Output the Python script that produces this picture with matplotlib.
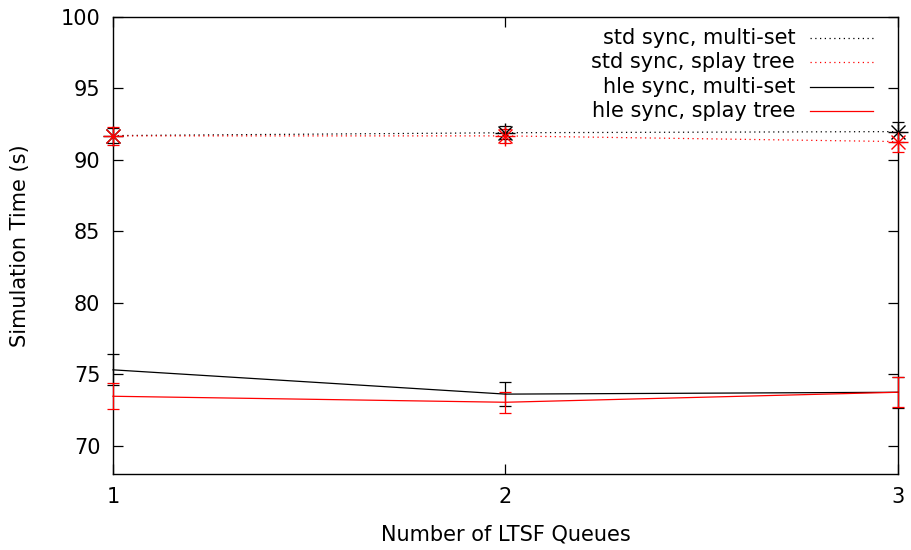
import matplotlib

matplotlib.use("Agg")
import matplotlib.pyplot as plt
from matplotlib.lines import Line2D

# Number of LTSF queues
queues = [1, 2, 3]

std_multiset = [91.70, 91.90, 91.98]
std_multiset_err = [0.55, 0.45, 0.70]
std_splay = [91.68, 91.68, 91.28]
std_splay_err = [0.65, 0.50, 0.70]

hle_multiset = [75.30, 73.60, 73.73]
hle_multiset_err = [1.08, 0.85, 1.10]
hle_splay = [73.45, 73.03, 73.73]
hle_splay_err = [0.90, 0.73, 1.05]

labels = ["std sync, multi-set", "std sync, splay tree",
          "hle sync, multi-set", "hle sync, splay tree"]

DOTTED = (0, (1, 2.8))
FS = 15

fig = plt.figure(figsize=(9.11, 5.5), dpi=100)
ax = fig.add_axes([0.124, 0.138, 0.8617, 0.831])


def draw(y, err, color, dotted, star):
    ls = DOTTED if dotted else "-"
    eb = ax.errorbar(queues, y, yerr=err, color=color, linewidth=0.9,
                     elinewidth=0.9, capsize=4.5, capthick=0.9, zorder=3)
    eb[0].set_linestyle(ls)
    for art in list(eb[1]) + list(eb[2]) + [eb[0]]:
        art.set_clip_on(False)
    if dotted:
        for c in eb[2]:
            c.set_linestyle(":")
    if star:
        ax.plot(queues, y, linestyle="none", marker="+", markersize=14,
                markeredgewidth=1.0, color=color, zorder=4, clip_on=False)
        ax.plot(queues, y, linestyle="none", marker="x", markersize=10,
                markeredgewidth=1.0, color=color, zorder=4, clip_on=False)


draw(std_multiset, std_multiset_err, "black", True, True)
draw(std_splay, std_splay_err, "red", True, True)
draw(hle_multiset, hle_multiset_err, "black", False, False)
draw(hle_splay, hle_splay_err, "red", False, False)

ax.set_xlim(1, 3)
ax.set_ylim(68, 100)
ax.set_xticks(queues)
ax.set_yticks([70, 75, 80, 85, 90, 95, 100])
ax.tick_params(direction="in", top=True, right=True, length=7, width=0.9,
               labelsize=FS, pad=9)
for s in ax.spines.values():
    s.set_linewidth(1.0)

ax.set_xlabel("Number of LTSF Queues", fontsize=FS, labelpad=13)
ax.set_ylabel("Simulation Time (s)", fontsize=FS, labelpad=22)

# gnuplot-style key: right-aligned text, sample line on the right
styles = [("black", DOTTED), ("red", DOTTED), ("black", "-"), ("red", "-")]
rows = [0.954, 0.9015, 0.847, 0.794]
for lab, (col, ls), yy in zip(labels, styles, rows):
    ax.text(0.869, yy, lab, transform=ax.transAxes, ha="right", va="center",
            fontsize=FS)
    ax.add_line(Line2D([0.888, 0.968], [yy, yy], transform=ax.transAxes,
                       color=col, linestyle=ls, linewidth=0.9))

fig.savefig("out.png", dpi=100, facecolor="white")
